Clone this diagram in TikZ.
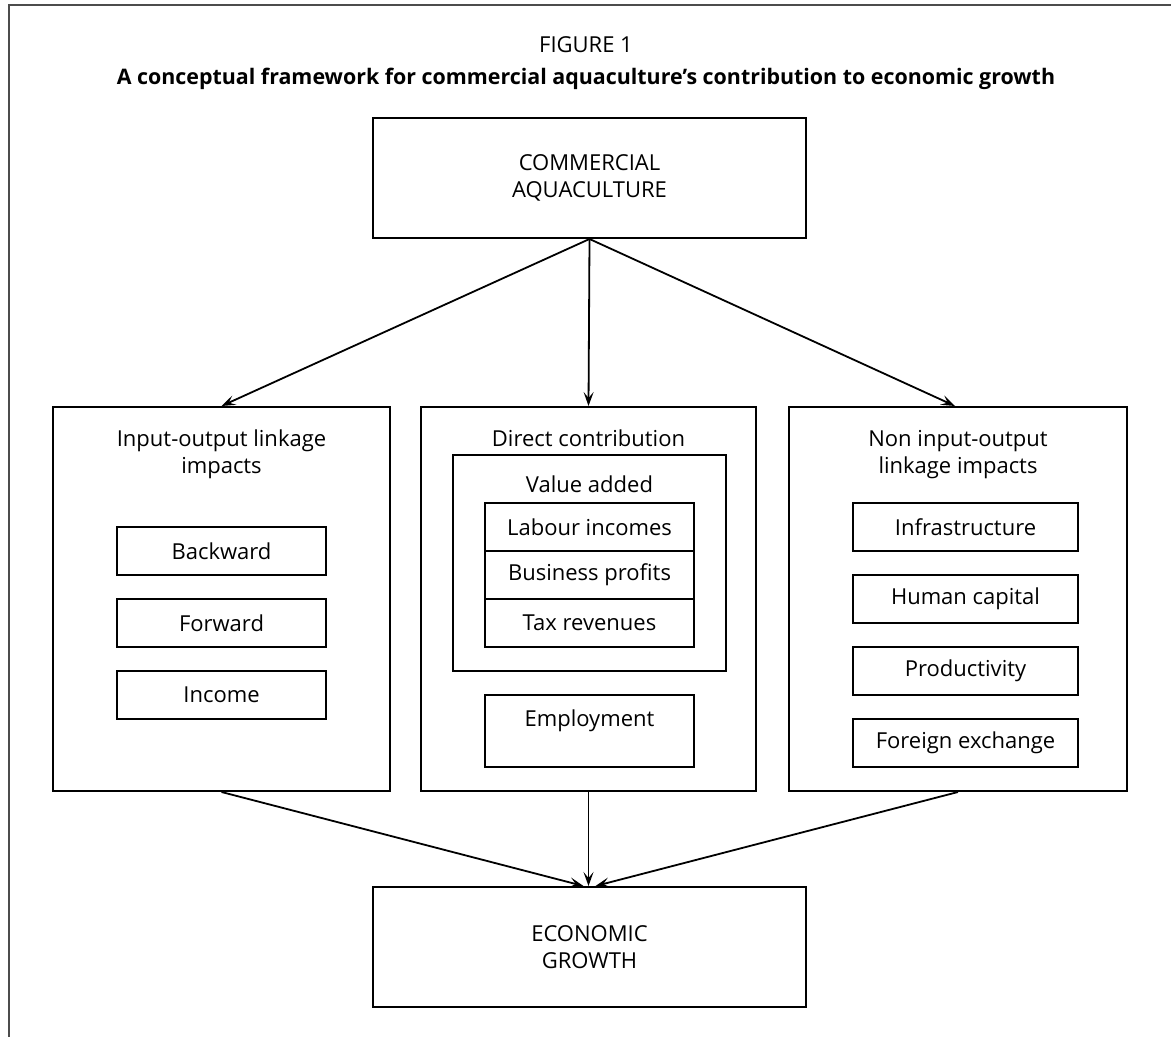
\documentclass[tikz,border=0pt]{standalone}
\usepackage{fontspec}
\setmainfont{Open Sans}
\usetikzlibrary{arrows.meta}

\begin{document}
\begin{tikzpicture}[x=0.5pt, y=-0.5pt,
    box/.style={draw, line width=1pt, inner sep=0pt, align=center},
    flow/.style={line width=0.9pt, -{Stealth[length=7pt, width=5pt, inset=3pt]}},
    every node/.style={font=\fontsize{11}{13.5}\selectfont}]

    % --- Canvas ---
    \useasboundingbox (0,0) rectangle (1171,1037);

    % --- Frame (top and left only) ---
    \draw[black!70, line width=1.2pt] (9,1037) -- (9,5) -- (1171,5);

    % --- Caption ---
    \node (fig) at (586,45) {FIGURE 1};
    \node[font=\fontsize{10.7}{13.5}\selectfont\bfseries] (cap) at (586,79)
        {A conceptual framework for commercial aquaculture’s contribution to economic growth};

    % --- Top and bottom boxes ---
    \node[box, minimum width=216.5pt, minimum height=60pt] (ca) at (589.5,178)
        {COMMERCIAL\\AQUACULTURE};
    \node[box, minimum width=216.5pt, minimum height=60pt] (eg) at (589.5,947)
        {ECONOMIC\\GROWTH};

    % --- Three impact boxes ---
    \node[box, minimum width=168.5pt, minimum height=192pt] (io)  at (221.5,599) {};
    \node[box, minimum width=167.5pt, minimum height=192pt] (dc)  at (588.5,599) {};
    \node[box, minimum width=169pt,   minimum height=192pt] (nio) at (958,599) {};

    \node[anchor=north, align=center] (io-t)  at ([yshift=-8.5pt]io.north)  {Input-output linkage\\impacts};
    \node[anchor=north] (dc-t)  at ([yshift=-8.5pt]dc.north)  {Direct contribution};
    \node[anchor=north, align=center] (nio-t) at ([yshift=-8.5pt]nio.north) {Non input-output\\linkage impacts};

    % --- Input-output linkages ---
    \node[box, minimum width=104.5pt, minimum height=24pt] (bw) at (221.5,551) {Backward};
    \node[box, minimum width=104.5pt, minimum height=24pt] (fw) at (221.5,623) {Forward};
    \node[box, minimum width=104.5pt, minimum height=24pt] (in) at (221.5,695) {Income};

    % --- Direct contribution ---
    \node[box, minimum width=136.5pt, minimum height=108pt] (va) at (589.5,563) {};
    \node[anchor=north] (va-t) at ([yshift=-7.5pt]va.north) {Value added};
    \node[box, minimum width=104.5pt, minimum height=24pt] (li) at (589.5,527) {Labour incomes};
    \node[box, minimum width=104.5pt, minimum height=24pt] (bp) at (589.5,575) {Business profits};
    \node[box, minimum width=104.5pt, minimum height=24pt] (tr) at (589.5,623) {Tax revenues};
    \node[box, minimum width=104.5pt, minimum height=36pt] (em) at (589.5,731) {};
    \node (em-t) at ([yshift=-13.5pt]em.north) {Employment};

    % --- Non input-output linkages ---
    \node[box, minimum width=112.5pt, minimum height=24pt] (is) at (965.5,527) {Infrastructure};
    \node[box, minimum width=112.5pt, minimum height=24pt] (hc) at (965.5,599) {Human capital};
    \node[box, minimum width=112.5pt, minimum height=24pt] (pr) at (965.5,671) {Productivity};
    \node[box, minimum width=112.5pt, minimum height=24pt] (fx) at (965.5,743) {Foreign exchange};

    % --- Arrows ---
    \draw[flow] (ca.south) -- (io.north);
    \draw[flow] (ca.south) -- (dc.north);
    \draw[flow] (ca.south) -- ([xshift=-1.5pt]nio.north);
    \draw[flow] (io.south) -- ([xshift=-3pt]eg.north);
    \draw[flow] (dc.south) -- (dc.south |- eg.north);
    \draw[flow] (nio.south) -- ([xshift=3pt]eg.north);

\end{tikzpicture}
\end{document}
